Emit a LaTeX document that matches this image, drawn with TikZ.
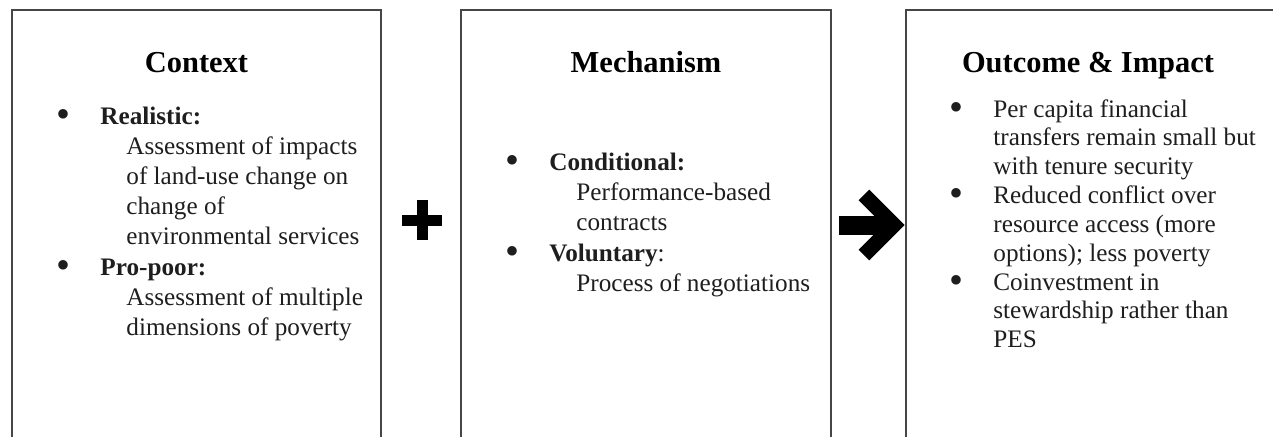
\documentclass[tikz,border=0pt]{standalone}
\usepackage{fontspec}
\setmainfont{Liberation Serif}
\usepackage{xcolor}
\usetikzlibrary{calc,positioning}
\newdimen\pxu \pxu=0.47619pt
\definecolor{panelgray}{RGB}{70,70,70}
\definecolor{textgray} {RGB}{30,30,30}
\tikzset{
  panel/.style   ={draw=panelgray, line width=2.2\pxu, minimum height=440\pxu,
                   minimum width=#1, inner sep=0pt},
  panel/.default=369\pxu,
  paneltitle/.style={anchor=base, inner sep=0pt, text=black,
                   font=\fontsize{14.5}{16}\selectfont\bfseries},
  itembox/.style ={anchor=base west, inner sep=0pt, text=textgray,
                   font=\fontsize{12}{#1}\selectfont},
  itembox/.default=14.4pt,
  plusbar/.style ={line width=11\pxu},
  bigshaft/.style={line width=19\pxu},
  bighead/.style ={line width=15\pxu, miter limit=10},
}
\newcommand{\bul}{\makebox[44\pxu][l]{\raisebox{-1.6pt}{\fontsize{19}{19}\selectfont\textbullet}}}
\newcommand{\ind}{\hspace*{70\pxu}}
\newcommand{\lines}[1]{\begin{tabular}[t]{@{}l@{}}#1\end{tabular}}

\begin{document}
\begin{tikzpicture}[x=0.47619pt, y=-0.47619pt]
  \useasboundingbox (0,0) rectangle (1273,436);
  \clip (0,0) rectangle (1273,436);
  %% the three panels
  \node[panel] (ctx) at (196.5,230) {};
  \node[panel=370\pxu] (mech) at (646,230) {};
  \node[panel=368\pxu] (outc) at (1090,230) {};
  \node[paneltitle] (ctxtitle)  at ($(ctx.north)+(0,64)$)  {Context};
  \node[paneltitle] (mechtitle) at ($(mech.north)+(0,64)$) {Mechanism};
  \node[paneltitle] (outctitle) at ($(outc.north)+(-2,64)$) {Outcome \& Impact};
  %% context items
  \node[itembox] (ctxreal) at (56,124) {\lines{\bul\textbf{Realistic:}\\
    \ind Assessment of impacts\\
    \ind of land-use change on\\
    \ind change of\\
    \ind environmental services}};
  \node[itembox] (ctxpoor) at (56,275.5) {\lines{\bul\textbf{Pro-poor:}\\
    \ind Assessment of multiple\\
    \ind dimensions of poverty}};
  %% mechanism items
  \node[itembox=14.5pt] (mechcond) at (505,170) {\lines{\bul\textbf{Conditional:}\\
    \hspace*{71\pxu}Performance-based\\
    \hspace*{71\pxu}contracts}};
  \node[itembox=14.5pt] (mechvol) at (505,261) {\lines{\bul\textbf{Voluntary}:\\
    \hspace*{71\pxu}Process of negotiations}};
  %% outcome items
  \node[itembox=13.7pt] (outcfin) at (949,117) {\lines{\bul Per capita financial\\
    \hspace*{44\pxu}transfers remain small but\\
    \hspace*{44\pxu}with tenure security}};
  \node[itembox=13.7pt] (outcconf) at (949,203.5) {\lines{\bul Reduced conflict over\\
    \hspace*{44\pxu}resource access (more\\
    \hspace*{44\pxu}options); less poverty}};
  \node[itembox=13.7pt] (outccoin) at (949,290) {\lines{\bul Coinvestment in\\
    \hspace*{44\pxu}stewardship rather than\\
    \hspace*{44\pxu}PES}};
  %% plus sign between context and mechanism
  \coordinate (pluspos) at ($(ctx.east)!0.5!(mech.west)+(1,-10)$);
  \draw[plusbar] ($(pluspos)+(-20,0)$) -- ($(pluspos)+(20,0)$);
  \draw[plusbar] ($(pluspos)+(0,-20)$) -- ($(pluspos)+(0,20)$);
  %% big arrow into the outcome panel
  \draw[bigshaft] ($(mech.east)+(7,-5)$) -- ($(outc.west)+(-16,-5)$);
  \draw[bighead] ($(outc.west)+(-41,-35)$) -- ($(outc.west)+(-11,-5)$)
    -- ($(outc.west)+(-41,25)$);
\end{tikzpicture}
\end{document}
